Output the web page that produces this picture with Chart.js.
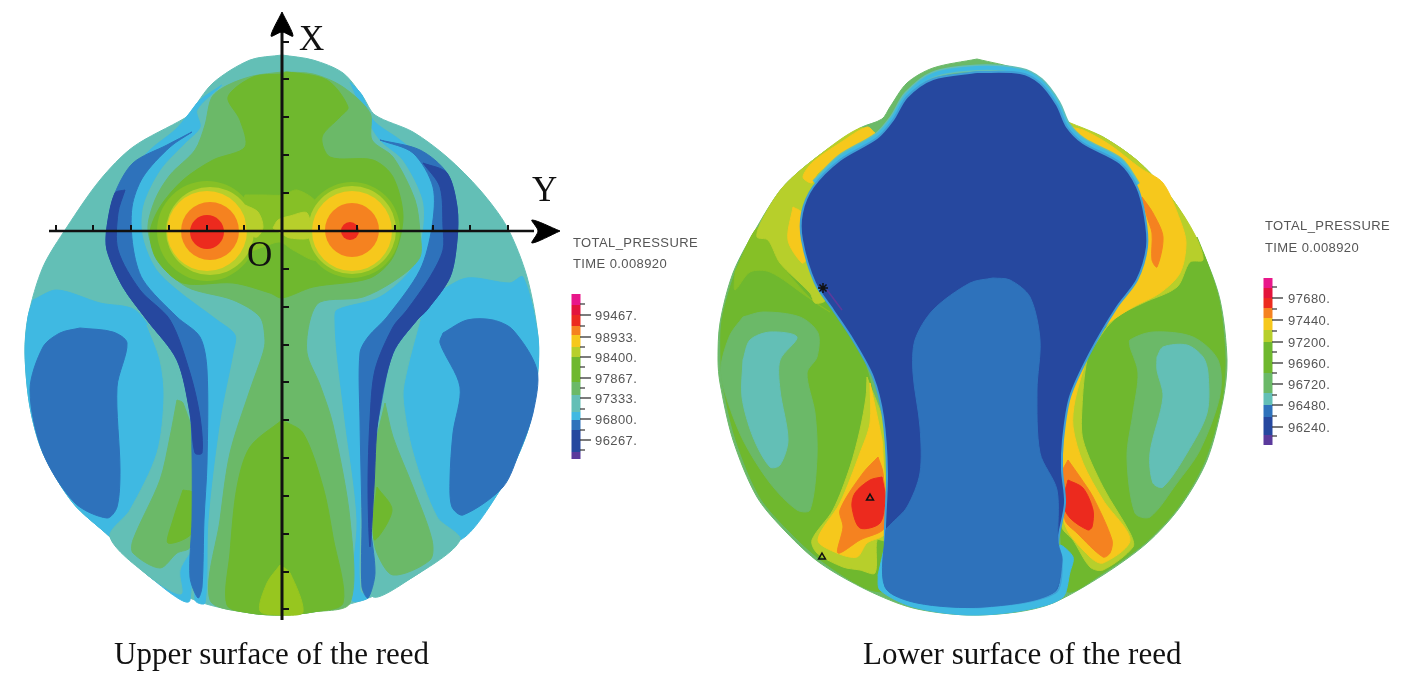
<!DOCTYPE html>
<html>
<head>
<meta charset="utf-8">
<title>Total pressure on the reed</title>
<script src="https://cdn.jsdelivr.net/npm/chart.js@4"></script>
<style>
  html, body { margin: 0; background: #fff; }
  #wrap { position: relative; width: 1401px; height: 678px; overflow: hidden; }
  canvas { display: block; filter: blur(0.5px); }
  .t { position: absolute; white-space: nowrap; line-height: 1; }
  .serif { font-family: "Liberation Serif", serif; color: #111; }
  .cae { font-family: "Liberation Sans", sans-serif; font-size: 13px; color: #555; letter-spacing: .4px; }
</style>
</head>
<body>
<div id="wrap"><canvas id="c" width="1401" height="678"></canvas></div>
<script>
// Contour colours, low to high pressure
const PURPLE = '#5b3a9c', DEEP = '#26489f', MID = '#2e72bb', SKY = '#3fb9e2', TEAL = '#63bfb6',
  GTEAL = '#6bb968', GREEN = '#6fb82e', GREEN2 = '#86c026', LIME = '#b7cf2b', YELLOW = '#f6c81c',
  ORANGE = '#f58220', RED = '#ec2a1e', CRIMSON = '#e3143c', PINK = '#e8178a';

// ---- upper surface contours (pairs of x, y in picture units)
const upperBody = [[282,55],[250,60],[213,83],[190,113],[185,118],[133,147],[100,180],[67,227],[43,267],[28,317],[25,353],[30,407],[43,453],[73,503],[110,537],[150,577],[200,602],[250,613],[282,615],[313,612],[363,600],[413,577],[460,540],[500,490],[527,433],[537,380],[538,337],[527,277],[507,227],[480,190],[447,157],[413,132],[375,115],[363,97],[343,73],[313,60],[282,55]];
const upperSkyPatchL = [[33,300],[57,290],[100,303],[135,310],[155,340],[175,420],[190,600],[150,577],[110,537],[73,503],[43,453],[30,407],[25,353],[28,317],[33,300]];
const upperSkyPatchR = [[437,293],[467,278],[510,283],[523,277],[538,337],[537,380],[527,433],[500,490],[460,540],[437,517],[413,453],[403,397],[407,370],[420,320],[437,293]];
const upperTealWedgeL = [[147,325],[160,360],[164,397],[157,453],[130,510],[110,537],[150,577],[181,594],[180,570],[195,540],[192,420],[170,360],[147,325]];
const upperTealWedgeR = [[420,320],[407,370],[403,397],[413,453],[437,517],[460,540],[413,577],[372,596],[372,520],[375,450],[385,380],[420,320]];
const upperGtealWedgeL = [[177,400],[170,437],[160,480],[133,540],[133,553],[160,568],[177,553],[190,547],[197,453],[183,403],[177,400]];
const upperGtealWedgeR = [[385,403],[393,437],[413,487],[432,540],[430,560],[393,575],[377,553],[373,530],[375,450],[385,403]];
const upperGreenSpotL = [[183,490],[193,493],[192,533],[168,543],[173,520],[183,490]];
const upperGreenSpotR = [[377,487],[392,510],[375,540],[373,520],[377,487]];
const upperMidPatchL = [[80,328],[113,332],[127,343],[117,387],[120,470],[117,507],[107,518],[75,503],[43,453],[30,390],[43,347],[60,333],[80,328]];
const upperMidPatchR = [[443,333],[467,320],[493,320],[513,330],[537,370],[533,413],[520,450],[503,487],[463,515],[452,507],[450,480],[453,433],[460,387],[440,343],[443,333]];
const upperSkyStripL = [[222,85],[200,100],[188,115],[175,130],[150,150],[120,185],[115,230],[125,280],[160,330],[195,400],[195,600],[205,603],[208,520],[220,420],[233,353],[235,335],[217,320],[177,290],[155,268],[142,235],[143,205],[160,170],[185,143],[200,127],[197,110],[222,85]];
const upperSkyStripR = [[350,82],[362,95],[373,120],[400,140],[435,170],[445,200],[445,250],[425,300],[395,340],[365,385],[362,430],[360,520],[360,590],[368,598],[352,600],[357,520],[345,420],[337,353],[335,320],[337,310],[380,297],[413,267],[423,233],[423,200],[403,160],[380,140],[365,115],[350,82]];
const upperCentreGteal = [[282,72],[253,76],[228,85],[212,97],[205,125],[195,150],[170,175],[155,200],[148,230],[160,262],[187,287],[233,300],[260,317],[265,340],[263,353],[250,390],[230,453],[220,520],[210,600],[250,613],[282,615],[313,612],[350,603],[350,520],[333,425],[320,385],[307,353],[310,320],[320,302],[363,297],[400,277],[420,257],[420,233],[415,200],[393,157],[372,140],[370,113],[343,87],[313,74],[282,72]];
const upperCentreGreenTop = [[282,74],[253,77],[228,97],[240,120],[245,147],[213,160],[183,180],[160,207],[150,233],[157,260],[183,283],[233,283],[270,293],[282,298],[313,287],[370,278],[393,257],[403,217],[393,177],[373,160],[330,157],[322,137],[340,117],[348,107],[327,80],[287,72],[282,74]];
const upperCentreGreenLow = [[282,420],[250,447],[237,487],[230,553],[227,605],[250,613],[282,615],[313,612],[343,603],[333,537],[323,487],[303,433],[282,420]];
const upperLimeTip = [[280,565],[267,583],[260,611],[282,615],[303,612],[290,573],[280,565]];
const upperBridge = [[245,195],[263,195],[283,195],[297,190],[317,203],[322,232],[317,260],[293,250],[280,242],[263,247],[240,253],[230,237],[245,195]];
const upperRingCentres = [[207,231],[210,231],[207,231],[210,231],[207,232],[352,230],[352,230],[352,231],[352,230],[350,231]];
const upperRingRadii = [50,44,40,29,17,48,44,40,27,9];
const upperLimeCentre = [[273,228],[278,220],[290,216],[307,213],[310,237],[290,238],[282,234],[273,228]];
const upperLimeSide = [[245,205],[258,212],[263,227],[257,237],[248,233],[245,205]];
const upperBandMidL = [[192,132],[167,145],[133,163],[115,193],[107,227],[107,250],[123,287],[147,320],[177,360],[190,413],[192,453],[192,520],[190,577],[198,598],[202,587],[204,520],[207,463],[207,370],[200,337],[177,317],[143,280],[133,247],[132,207],[143,177],[170,147],[192,132]];
const upperBandDeepL = [[125,190],[115,193],[107,227],[107,250],[123,287],[147,320],[177,360],[190,413],[195,453],[202,453],[200,417],[190,373],[170,320],[140,290],[118,250],[118,213],[125,190]];
const upperBandMidR = [[380,140],[420,150],[447,173],[457,207],[457,240],[450,277],[427,310],[417,320],[393,353],[380,410],[373,453],[370,520],[375,573],[368,598],[362,587],[362,520],[360,420],[360,353],[368,337],[387,317],[420,270],[432,227],[433,187],[413,153],[380,140]];
const upperBandDeepR = [[423,163],[440,187],[443,227],[443,250],[430,277],[407,310],[393,327],[375,370],[370,420],[368,487],[370,547],[374,487],[378,420],[393,353],[417,320],[427,310],[450,277],[457,240],[457,207],[447,173],[423,163]];

// ---- lower surface contours
const lowerBody = [[977,59],[933,68],[907,83],[890,107],[882,119],[860,128],[817,157],[783,187],[757,227],[733,273],[720,323],[718,360],[720,383],[733,440],[757,497],[787,533],[820,563],[867,590],[913,608],[967,615],[1017,612],[1053,603],[1103,575],[1147,543],[1180,507],[1207,460],[1223,400],[1227,360],[1220,300],[1203,253],[1173,200],[1140,163],[1103,137],[1068,122],[1053,97],[1033,82],[1020,70],[977,59]];
const lowerGreenL = [[762,222],[745,250],[735,273],[722,320],[721,360],[723,385],[736,440],[760,497],[790,532],[822,561],[865,588],[885,590],[885,547],[880,450],[870,380],[850,330],[820,290],[802,240],[790,215],[762,222]];
const lowerGreen2L = [[735,272],[757,228],[768,240],[780,263],[812,300],[830,312],[806,296],[770,272],[750,272],[735,290],[735,272]];
const lowerGtealL = [[743,317],[763,312],[800,317],[818,333],[817,357],[807,373],[815,413],[817,457],[810,510],[797,510],[770,483],[743,440],[725,393],[721,367],[730,335],[743,317]];
const lowerTealL = [[743,360],[750,340],[770,332],[797,337],[780,360],[780,390],[788,440],[780,465],[770,467],[753,437],[742,397],[743,360]];
const lowerLimeUL = [[875,133],[860,128],[817,157],[783,187],[762,220],[757,237],[768,240],[780,263],[810,293],[815,303],[825,300],[802,240],[802,213],[813,187],[840,160],[875,133]];
const lowerYellowUL1 = [[875,133],[867,127],[840,143],[813,162],[803,177],[812,183],[818,173],[840,157],[875,133]];
const lowerYellowUL2 = [[793,207],[788,240],[802,263],[807,258],[802,240],[802,213],[793,207]];
const lowerLimeLL = [[867,377],[885,430],[885,540],[877,540],[875,573],[860,570],[843,567],[817,553],[812,540],[833,510],[850,467],[860,430],[866,397],[867,377]];
const lowerYellowLL = [[870,383],[882,440],[883,455],[885,533],[867,543],[857,557],[837,553],[818,540],[840,503],[860,453],[870,423],[870,383]];
const lowerOrangeLL = [[878,457],[883,473],[885,527],[860,540],[838,553],[843,527],[840,510],[863,473],[878,457]];
const lowerRedLL = [[882,477],[885,497],[880,523],[860,528],[852,507],[855,493],[870,480],[882,477]];
const lowerGreenR = [[1197,237],[1207,262],[1219,300],[1225,357],[1222,400],[1205,460],[1179,506],[1146,542],[1103,573],[1068,592],[1062,560],[1062,470],[1090,353],[1117,310],[1150,290],[1197,237]];
const lowerGtealR = [[1130,347],[1138,373],[1133,413],[1127,457],[1135,513],[1150,517],[1177,483],[1200,450],[1220,395],[1218,360],[1193,337],[1153,332],[1130,340],[1130,347]];
const lowerTealR = [[1157,357],[1163,347],[1187,345],[1203,357],[1208,373],[1207,413],[1187,453],[1163,487],[1153,483],[1150,453],[1163,397],[1157,370],[1157,357]];
const lowerLimeR = [[1068,122],[1103,137],[1140,163],[1173,200],[1195,235],[1203,260],[1190,262],[1177,287],[1143,303],[1117,317],[1097,340],[1087,360],[1082,407],[1083,440],[1103,487],[1130,533],[1133,547],[1103,570],[1090,567],[1073,540],[1062,527],[1062,470],[1070,397],[1090,353],[1137,280],[1147,247],[1137,187],[1083,143],[1068,122]];
const lowerYellowUR = [[1068,127],[1083,130],[1110,145],[1140,168],[1163,183],[1180,220],[1186,243],[1180,273],[1160,293],[1133,307],[1110,322],[1100,332],[1117,307],[1137,280],[1147,247],[1145,217],[1137,187],[1120,163],[1083,143],[1068,127]];
const lowerOrangeUR = [[1142,197],[1153,213],[1163,237],[1157,267],[1152,260],[1152,233],[1147,217],[1142,197]];
const lowerYellowLR = [[1087,357],[1075,400],[1073,427],[1083,463],[1103,500],[1130,540],[1103,563],[1090,557],[1065,525],[1062,470],[1063,440],[1070,397],[1087,357]];
const lowerOrangeLR = [[1068,460],[1080,477],[1093,497],[1112,540],[1110,553],[1103,557],[1077,533],[1065,520],[1062,473],[1068,460]];
const lowerRedLR = [[1068,480],[1083,488],[1093,510],[1092,527],[1088,530],[1070,518],[1063,503],[1068,480]];
const lowerRim = [[815,183],[840,158],[877,136],[893,118],[907,95],[933,75],[977,68],[1020,71],[1040,81],[1057,103],[1067,125],[1083,141],[1120,161],[1137,185]];
const lowerSkyFoot = [[878,575],[886,545],[888,590],[933,603],[983,607],[1055,593],[1062,560],[1060,545],[1073,557],[1070,572],[1062,598],[1020,611],[967,615],[913,607],[880,590],[878,575]];
const lowerDeep = [[977,72],[933,79],[907,97],[893,120],[877,138],[840,160],[813,187],[802,213],[802,240],[815,283],[833,310],[853,340],[873,377],[883,417],[887,473],[885,527],[885,547],[888,590],[933,603],[983,607],[1055,593],[1062,560],[1058,543],[1065,503],[1062,470],[1063,440],[1070,397],[1090,353],[1117,307],[1137,280],[1147,247],[1145,217],[1137,187],[1120,163],[1083,143],[1067,127],[1057,105],[1040,83],[1020,73],[977,72]];
const lowerMid = [[993,278],[970,283],[933,310],[915,340],[913,373],[920,427],[920,473],[907,507],[890,525],[886,530],[885,587],[917,603],[983,607],[1053,593],[1062,560],[1058,543],[1057,490],[1040,453],[1037,390],[1040,340],[1030,297],[1010,280],[993,278]];
const lowerStarTrail = [[827,290],[842,310]];

// ---- axes of the upper figure
const axisX = [[282,30],[282,620]];
const axisY = [[49,231],[534,231]];
const arrowX = [[282,12],[293,36],[282,32],[271,36],[282,12]];
const arrowY = [[560,231],[532,243],[538,231],[532,220],[560,231]];
const ticksOnX = [42,79,117,155,193,269,307,345,382,420,458,496,534,572,609];
const ticksOnY = [56,93,131,169,207,244,319,357,395,433,470,508];

// ---- markers on the lower figure
const triangleMarks = [[870,498],[822,557]];
const starMarks = [[823,288]];

// ---- colour bars
const barColors = [PINK, CRIMSON, RED, ORANGE, YELLOW, LIME, GREEN, GTEAL, TEAL, SKY, MID, DEEP, PURPLE];
const upperBarEdges = [294,305,315,326,335,347,357,382,395,412,420,430,452,459];
const lowerBarEdges = [278,288,298,308,318,330,342,373,393,405,405,417,435,445];
const upperBarTicks = [315,337,357,378,398,419,440];
const lowerBarTicks = [298,320,342,363,384,405,427];
const upperBarMinor = [304,326,347,367,388,409,430,450];
const lowerBarMinor = [287,309,331,352,373,395,416,436];
const upperBarLabels = ['99467.','98933.','98400.','97867.','97333.','96800.','96267.'];
const lowerBarLabels = ['97680.','97440.','97200.','96960.','96720.','96480.','96240.'];

const xy = pts => pts.map(([x, y]) => ({ x, y }));

function area(pts, color, edge) {
  return {
    data: xy(pts), showLine: true, fill: 'shape', backgroundColor: color,
    borderColor: edge || color, borderWidth: edge ? 2 : 1, tension: 0.3, pointRadius: 0,
  };
}

function stroke(pts, color, width, tension) {
  return {
    data: xy(pts), showLine: true, fill: false, borderColor: color, borderWidth: width,
    borderCapStyle: 'butt', tension: tension || 0, pointRadius: 0,
  };
}

function dots(pts, style, radius, color, opts) {
  return Object.assign({
    data: xy(pts), showLine: false, pointStyle: style, pointRadius: radius,
    pointBackgroundColor: 'transparent', pointBorderColor: color, pointBorderWidth: 1.5,
  }, opts);
}

function disc(centre, radius, color) {
  return {
    data: xy([centre]), showLine: false, pointStyle: 'circle', pointRadius: radius,
    pointBackgroundColor: color, pointBorderWidth: 0,
  };
}

function barSegments(x, edges) {
  return barColors.map((c, i) => stroke([[x, edges[i]], [x, edges[i + 1]]], c, 9));
}

function barTicks(x, major, minor) {
  return [
    dots(major.map(y => [x, y]), 'dash', 11, '#333', { pointBorderWidth: 1.3 }),
    dots(minor.map(y => [x, y]), 'dash', 5, '#333', { pointBorderWidth: 1.2 }),
  ];
}

const upperRingColors = [GREEN2, LIME, YELLOW, ORANGE, RED, GREEN2, LIME, YELLOW, ORANGE, RED];

// painted back to front
const layers = [
  area(upperBody, TEAL),
  area(upperSkyPatchL, SKY), area(upperSkyPatchR, SKY),
  area(upperTealWedgeL, TEAL), area(upperTealWedgeR, TEAL),
  area(upperGtealWedgeL, GTEAL), area(upperGtealWedgeR, GTEAL),
  area(upperGreenSpotL, GREEN), area(upperGreenSpotR, GREEN),
  area(upperMidPatchL, MID), area(upperMidPatchR, MID),
  area(upperSkyStripL, SKY), area(upperSkyStripR, SKY),
  area(upperCentreGteal, GTEAL),
  area(upperCentreGreenTop, GREEN), area(upperCentreGreenLow, GREEN),
  area(upperLimeTip, '#97c61f'), area(upperBridge, GREEN2),
  ...upperRingCentres.map((c, i) => disc(c, upperRingRadii[i], upperRingColors[i])),
  area(upperLimeCentre, LIME), area(upperLimeSide, LIME),
  area(upperBandMidL, MID), area(upperBandMidR, MID),
  area(upperBandDeepL, DEEP), area(upperBandDeepR, DEEP),
  stroke(axisX, '#111', 3), stroke(axisY, '#111', 2.5),
  area(arrowX, '#000'), area(arrowY, '#000'),
  dots(ticksOnX.map(y => [283, y]), 'dash', 6, '#111', { pointBorderWidth: 2 }),
  dots(ticksOnY.map(x => [x, 231]), 'dash', 6, '#111', { pointBorderWidth: 2, pointRotation: -90 }),

  area(lowerBody, GTEAL),
  area(lowerGreenL, GREEN), area(lowerGreen2L, GREEN2),
  area(lowerGtealL, GTEAL), area(lowerTealL, TEAL),
  area(lowerLimeUL, LIME), area(lowerYellowUL1, YELLOW), area(lowerYellowUL2, YELLOW),
  area(lowerLimeLL, LIME), area(lowerYellowLL, YELLOW), area(lowerOrangeLL, ORANGE), area(lowerRedLL, RED),
  area(lowerGreenR, GREEN), area(lowerGtealR, GTEAL), area(lowerTealR, TEAL),
  area(lowerLimeR, LIME), area(lowerYellowUR, YELLOW), area(lowerOrangeUR, ORANGE),
  area(lowerYellowLR, YELLOW), area(lowerOrangeLR, ORANGE), area(lowerRedLR, RED),
  area(lowerSkyFoot, SKY),
  stroke(lowerRim, TEAL, 7, 0.3), stroke(lowerRim, SKY, 4, 0.3),
  area(lowerDeep, DEEP, '#3f9fd6'), area(lowerMid, MID),
  stroke(lowerStarTrail, PURPLE, 1.5),
  dots(triangleMarks, 'triangle', 4, '#111'),
  dots(starMarks, 'star', 5, '#111'),

  ...barSegments(576, upperBarEdges),
  ...barSegments(1268, lowerBarEdges),
  ...barTicks(580, upperBarTicks, upperBarMinor),
  ...barTicks(1272, lowerBarTicks, lowerBarMinor),
];

new Chart(document.getElementById('c'), {
  type: 'scatter',
  data: { datasets: layers.reverse() },  // Chart.js paints the first dataset last
  options: {
    responsive: false,
    animation: false,
    events: [],
    layout: { padding: 0, autoPadding: false },
    plugins: { legend: { display: false }, tooltip: { enabled: false } },
    scales: {
      x: { type: 'linear', display: false, min: 0, max: 1401 },
      y: { type: 'linear', display: false, min: 0, max: 678, reverse: true },
    },
  },
});

// real text on top of the canvas
function label(text, cls, x, y, size) {
  const el = document.createElement('div');
  el.className = 't ' + cls;
  el.textContent = text;
  el.style.left = x + 'px';
  el.style.top = y + 'px';
  if (size) el.style.fontSize = size + 'px';
  document.getElementById('wrap').appendChild(el);
}

label('X', 'serif', 299, 21, 35);
label('Y', 'serif', 532, 172, 35);
label('O', 'serif', 247, 237, 35);
label('Upper surface of the reed', 'serif', 114, 638, 31);
label('Lower surface of the reed', 'serif', 863, 638, 31);
label('TOTAL_PRESSURE', 'cae', 573, 236);
label('TIME 0.008920', 'cae', 573, 257);
label('TOTAL_PRESSURE', 'cae', 1265, 219);
label('TIME 0.008920', 'cae', 1265, 241);
upperBarLabels.forEach((t, i) => label(t, 'cae', 595, upperBarTicks[i] - 6));
lowerBarLabels.forEach((t, i) => label(t, 'cae', 1288, lowerBarTicks[i] - 6));
</script>
</body>
</html>
